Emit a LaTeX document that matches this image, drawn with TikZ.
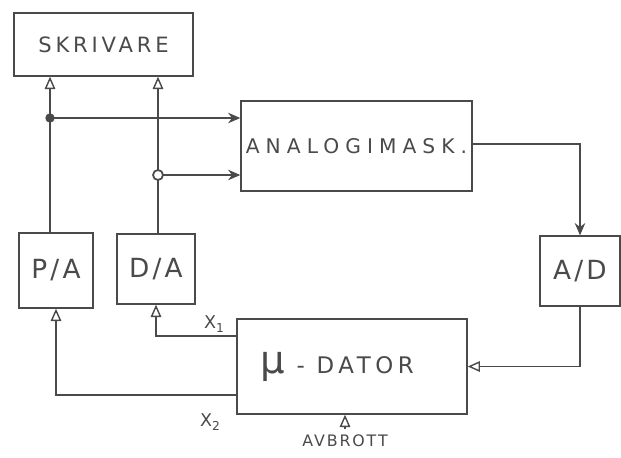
\documentclass[tikz,border=0pt]{standalone}
\usepackage{fontspec}
\usetikzlibrary{arrows.meta}
\newfontfamily\handfont[LetterSpace=12]{DejaVu Sans}
\definecolor{ink}{HTML}{4A4A4A}

\begin{document}
\begin{tikzpicture}[
            x=0.02cm,
            y=-0.02cm,
            every node/.style={
                font=\handfont,
                text=ink
            },
            block/.style={
                draw=ink,
                line width=0.8pt,
                inner sep=0pt
            },
            wire/.style={
                draw=ink,
                line width=0.8pt
            },
            openarrow/.style={
                wire,
                -{Triangle[open,length=7pt,width=6pt]}
            },
            fullarrow/.style={
                wire,
                -{Stealth[length=7pt,width=6pt]}
            },
            dot/.style={
                circle,
                draw=ink,
                line width=1pt,
                inner sep=0pt
            }
        ]
        \useasboundingbox (0,0) rectangle (621,457);

        % Bloques
        \node[block, minimum width=3.58cm, minimum height=1.26cm,
              font=\handfont\fontsize{12}{14}\selectfont\addfontfeatures{LetterSpace=18}] (skr) at (103.5,44.5) {SKRIVARE};
        \node[block, minimum width=4.62cm, minimum height=1.8cm,
              font=\handfont\fontsize{11.5}{14}\selectfont\addfontfeatures{LetterSpace=30}] (ana) at (356.5,146) {ANALOGIMASK.};
        \node[block, minimum width=1.48cm, minimum height=1.5cm,
              font=\handfont\fontsize{15}{18}\selectfont] (pa) at (56,270.5) {P/A};
        \node[block, minimum width=1.56cm, minimum height=1.4cm,
              font=\handfont\fontsize{15}{18}\selectfont] (da) at (156,269) {D/A};
        \node[block, minimum width=1.6cm, minimum height=1.4cm,
              font=\handfont\fontsize{15}{18}\selectfont] (ad) at (580,271) {A/D};
        \node[block, minimum width=4.6cm, minimum height=1.9cm,
              font=\handfont\fontsize{13}{16}\selectfont\addfontfeatures{LetterSpace=20}] (dator) at (352,366.5)
              {{\fontsize{22}{24}\selectfont μ}\ -\ DATOR\hspace*{0.6cm}};

        % Etiquetas
        \node[font=\handfont\fontsize{10}{12}\selectfont] (x1) at (214,324) {X\raisebox{-0.5ex}{\scriptsize 1}};
        \node[font=\handfont\fontsize{10}{12}\selectfont] (x2) at (210,422) {X\raisebox{-0.5ex}{\scriptsize 2}};
        \node[font=\handfont\fontsize{9}{11}\selectfont] (avb) at (345,441) {AVBROTT};

        % Nodos de derivación
        \coordinate (j1) at (50,118);
        \coordinate (j2) at (158,175);

        % Conexiones
        \draw[openarrow] (pa.north -| j1) -- (skr.south -| j1);
        \draw[fullarrow] (j1) -- (j1 -| ana.west);
        \draw[openarrow] (da.north -| j2) -- (skr.south -| j2);
        \draw[fullarrow] (j2) -- (j2 -| ana.west);
        \draw[fullarrow] ([yshift=0.04cm]ana.east) -| (ad.north);
        \draw[openarrow] (ad.south) |- (dator.east);
        \draw[openarrow] ([yshift=0.61cm]dator.west) -| (da.south);
        \draw[openarrow] ([yshift=-0.57cm]dator.west) -| (pa.south);
        \draw[openarrow] (avb.north) -- (avb.north |- dator.south);

        \node[dot, fill=ink, minimum size=0.15cm] (d1) at (j1) {};
        \node[dot, fill=white, minimum size=0.2cm] (d2) at (j2) {};

        \end{tikzpicture}
\end{document}
